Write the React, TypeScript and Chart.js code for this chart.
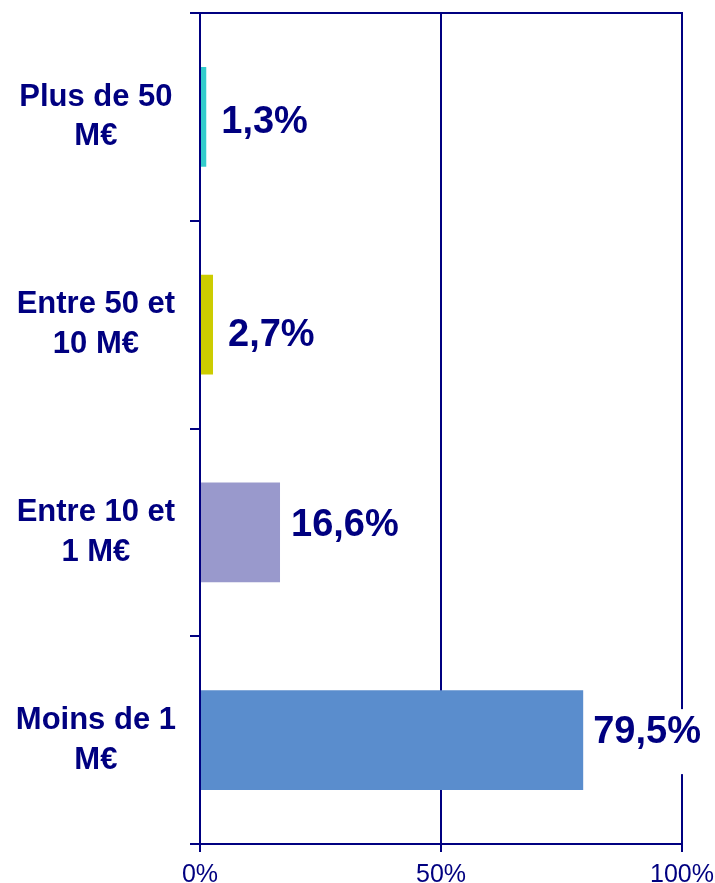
import React, { useEffect, useRef } from "react";
import { Chart, registerables } from "chart.js";

Chart.register(...registerables);

const categories: string[][] = [
  ["Plus de 50", "M€"],
  ["Entre 50 et", "10 M€"],
  ["Entre 10 et", "1 M€"],
  ["Moins de 1", "M€"],
];
const shares: number[] = [1.3, 2.7, 16.6, 79.5];
const valueLabels: string[] = ["1,3%", "2,7%", "16,6%", "79,5%"];
const barColors: string[] = ["#33CCCC", "#CCCC00", "#9999CC", "#5A8DCD"];
const xTicks: number[] = [0, 50, 100];

// small per-label placement nudges (label position style, in px)
const labelNudgeX: number[] = [15, 15, 11, 10];
const labelNudgeY: number[] = [5, 10, -8, -9];

const NAVY = "#000080";
const FONT = "'Liberation Sans', Arial, Helvetica, sans-serif";

const valueLabelPlugin = {
  id: "valueLabels",
  afterDatasetsDraw(chart: any) {
    const ctx = chart.ctx;
    const meta = chart.getDatasetMeta(0);
    ctx.save();
    ctx.font = `bold 38px ${FONT}`;
    ctx.textBaseline = "middle";
    ctx.textAlign = "left";
    meta.data.forEach((bar: any, i: number) => {
      const txt = valueLabels[i];
      const x = bar.x + labelNudgeX[i];
      const y = bar.y;
      const w = ctx.measureText(txt).width;
      ctx.fillStyle = "#ffffff";
      ctx.fillRect(x - 3, y - 31, w + 6, 65);
      ctx.fillStyle = NAVY;
      ctx.fillText(txt, x, y + 1 + labelNudgeY[i]);
    });
    ctx.restore();
  },
};

export default function App() {
  const canvasRef = useRef<HTMLCanvasElement | null>(null);

  useEffect(() => {
    if (!canvasRef.current) return;
    const chart = new Chart(canvasRef.current, {
      type: "bar",
      data: {
        labels: categories,
        datasets: [
          {
            data: shares,
            backgroundColor: barColors,
            borderWidth: 0,
            barPercentage: 0.48,
            categoryPercentage: 1,
          },
        ],
      },
      plugins: [valueLabelPlugin],
      options: {
        indexAxis: "y",
        responsive: false,
        animation: false,
        layout: { padding: { top: 13, right: 33, left: 0, bottom: 0 } },
        plugins: {
          legend: { display: false },
          tooltip: { enabled: false },
          title: { display: false },
        },
        scales: {
          x: {
            type: "linear",
            position: "bottom",
            min: 0,
            max: 100,
            afterBuildTicks: (scale: any) => {
              scale.ticks = xTicks.map((v) => ({ value: v }));
            },
            afterFit: (scale: any) => {
              scale.paddingLeft = 0;
              scale.paddingRight = 0;
            },
            ticks: {
              color: NAVY,
              font: { family: FONT, size: 25 },
              padding: 8,
              callback: (v: any) => `${v}%`,
              maxRotation: 0,
            },
            grid: {
              color: NAVY,
              lineWidth: 2,
              drawTicks: true,
              tickLength: 8,
            },
            border: { display: true, color: NAVY, width: 2 },
          },
          xTop: {
            type: "linear",
            position: "top",
            min: 0,
            max: 100,
            ticks: { display: false },
            grid: { display: false, drawTicks: false },
            border: { display: true, color: NAVY, width: 2 },
          },
          y: {
            type: "category",
            position: "left",
            offset: true,
            afterFit: (scale: any) => {
              scale.width = 200;
              scale.paddingTop = 0;
              scale.paddingBottom = 0;
            },
            ticks: {
              color: NAVY,
              font: { family: FONT, size: 31, weight: "bold", lineHeight: 1.28 },
              crossAlign: "center",
              padding: 14,
            },
            grid: {
              offset: true,
              drawOnChartArea: false,
              drawTicks: true,
              tickLength: 10,
              color: NAVY,
              lineWidth: 2,
            },
            border: { display: true, color: NAVY, width: 2 },
          },
        },
      },
    } as any);
    return () => chart.destroy();
  }, []);

  return (
    <div
      style={{
        position: "fixed",
        left: 0,
        top: 0,
        width: 715,
        height: 883,
        overflow: "hidden",
        background: "#ffffff",
      }}
    >
      <canvas
        ref={canvasRef}
        width={715}
        height={898}
        style={{ display: "block", width: 715, height: 898 }}
      />
    </div>
  );
}
